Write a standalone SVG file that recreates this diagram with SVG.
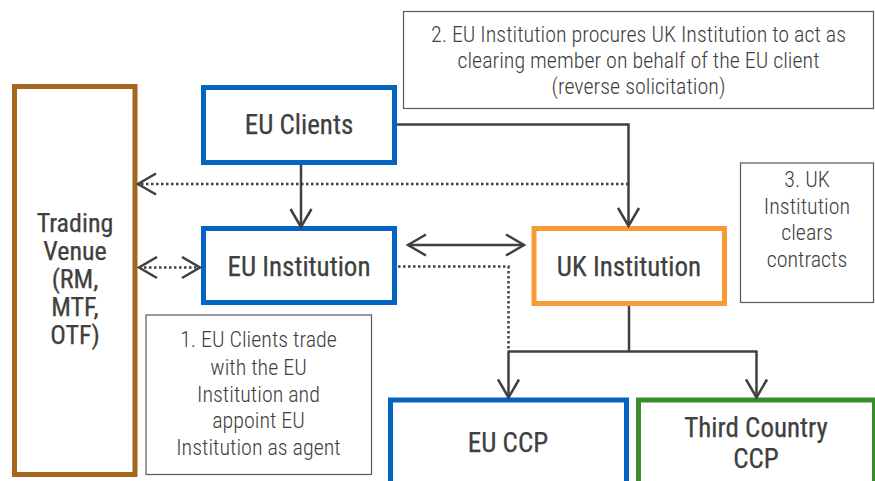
<svg xmlns="http://www.w3.org/2000/svg" width="875" height="481" viewBox="0 0 875 481">
<defs>
<style>
.node{fill:#fff;stroke-width:5}
.blue{stroke:#0563C1}
.t{font-family:"Roboto Condensed","Liberation Sans Narrow","Arial Narrow","Liberation Sans",sans-serif;fill:#404040;text-anchor:middle}
.big{font-size:27px;font-weight:400;stroke:#404040;stroke-width:0.25}
.tv{font-size:26px}
.note{fill:#fff;stroke:#595959;stroke-width:1.2}
.sm{font-size:22px;font-weight:300}
.ln{fill:none;stroke:#404040;stroke-width:2.5}
.dot{fill:none;stroke:#404040;stroke-width:2.5;stroke-dasharray:2.5 2.5}
</style>
<marker id="ah" viewBox="0 0 24 24" markerWidth="24" markerHeight="24" refX="21" refY="12" orient="auto-start-reverse" markerUnits="userSpaceOnUse">
<path d="M3,1.5 L21,12 L3,22.5" fill="none" stroke="#404040" stroke-width="2.5"/>
</marker>
</defs>
<rect width="875" height="481" fill="#fff"/>

<g id="trading-venue">
<rect class="node" x="14.5" y="86.5" width="120.5" height="388" stroke="#A5661E"/>
<text class="t big tv" x="75" y="232">Trading</text>
<text class="t big tv" x="75" y="260">Venue</text>
<text class="t big tv" x="75" y="288">(RM,</text>
<text class="t big tv" x="75" y="316">MTF,</text>
<text class="t big tv" x="75" y="344">OTF)</text>
</g>

<g id="eu-clients">
<rect class="node blue" x="203.5" y="87.5" width="191" height="75"/>
<text class="t big" x="299" y="133.5">EU Clients</text>
</g>

<g id="eu-institution">
<rect class="node blue" x="203.5" y="228.5" width="191" height="74"/>
<text class="t big" x="299" y="275.5">EU Institution</text>
</g>

<g id="uk-institution">
<rect class="node" x="534" y="228.5" width="190.5" height="75" stroke="#F99B34"/>
<text class="t big" x="629" y="276">UK Institution</text>
</g>

<g id="eu-ccp">
<rect class="node blue" x="390.5" y="400" width="236" height="95"/>
<text class="t big" x="508" y="452">EU CCP</text>
</g>

<g id="third-country-ccp">
<rect class="node" x="638.5" y="400" width="236" height="95" stroke="#3A8A2E"/>
<text class="t big" x="756" y="437">Third Country</text>
<text class="t big" x="756" y="468">CCP</text>
</g>

<g id="note-2">
<rect class="note" x="403.5" y="11.5" width="470" height="97"/>
<text class="t sm" x="638.5" y="42">2. EU Institution procures UK Institution to act as</text>
<text class="t sm" x="638.5" y="68">clearing member on behalf of the EU client</text>
<text class="t sm" x="638.5" y="94">(reverse solicitation)</text>
</g>

<g id="note-1">
<rect class="note" x="146" y="315" width="225.5" height="159.5"/>
<text class="t sm" x="258.5" y="347">1. EU Clients trade</text>
<text class="t sm" x="258.5" y="374.5">with the EU</text>
<text class="t sm" x="258.5" y="401.5">Institution and</text>
<text class="t sm" x="258.5" y="428">appoint EU</text>
<text class="t sm" x="258.5" y="455">Institution as agent</text>
</g>

<g id="note-3">
<rect class="note" x="740.5" y="163" width="133" height="139.5"/>
<text class="t sm" x="807" y="187">3. UK</text>
<text class="t sm" x="807" y="213.5">Institution</text>
<text class="t sm" x="807" y="240">clears</text>
<text class="t sm" x="807" y="267">contracts</text>
</g>

<g id="connectors">
<path class="ln" d="M301,165 V227" marker-end="url(#ah)"/>
<path class="ln" d="M397,124.5 H628.5 V226" marker-end="url(#ah)"/>
<path class="dot" d="M628.5,184 H138" marker-end="url(#ah)"/>
<path class="dot" d="M139,267.5 H200" marker-start="url(#ah)" marker-end="url(#ah)"/>
<path class="ln" d="M408,245 H524" marker-start="url(#ah)" marker-end="url(#ah)"/>
<path class="dot" d="M398,266.5 H508.5 V351"/>
<path class="ln" d="M629,306 V351.5"/>
<path class="ln" d="M508.5,351.5 H756.5"/>
<path class="ln" d="M508.5,350.5 V397.5" marker-end="url(#ah)"/>
<path class="ln" d="M756.5,350.5 V397.5" marker-end="url(#ah)"/>
</g>
</svg>
